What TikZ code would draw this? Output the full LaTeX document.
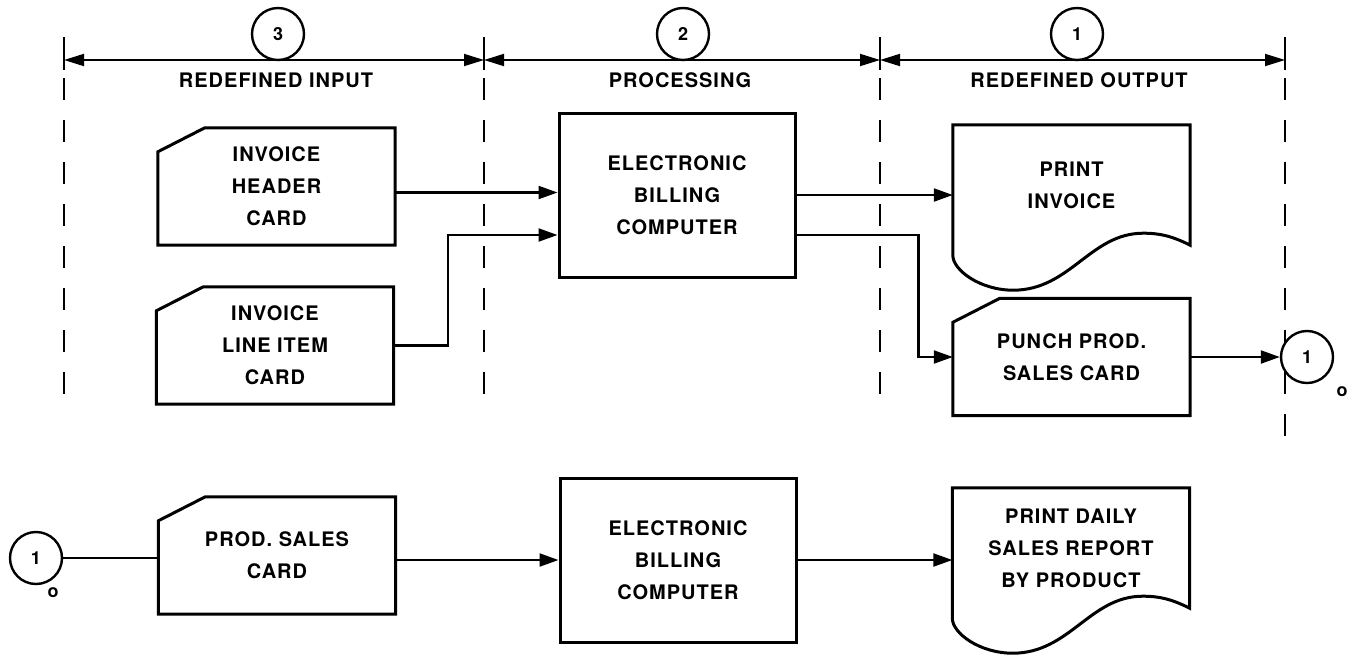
\documentclass[tikz,border=0pt]{standalone}
\usepackage{fontspec}
\setmainfont{TeX Gyre Heros}
\newfontfamily\flowfont[LetterSpace=5]{TeX Gyre Heros}
\usetikzlibrary{arrows.meta}

\tikzset{
  boxtext/.style={font=\flowfont\bfseries\fontsize{20}{32}\selectfont, align=center, inner sep=0pt},
  outline/.style={line width=3pt, line join=miter},
  proc/.style={boxtext, draw, outline, minimum width=236pt, minimum height=164pt},
  card/.style={boxtext, minimum width=237pt, minimum height=117pt,
    append after command={\pgfextra{\draw[outline]
      ([yshift=-24pt]\tikzlastnode.north west) -- ([xshift=47pt]\tikzlastnode.north west)
      -- (\tikzlastnode.north east) -- (\tikzlastnode.south east)
      -- (\tikzlastnode.south west) -- cycle;}}},
  doc/.style={boxtext, minimum width=237pt, minimum height=120pt,
    append after command={\pgfextra{\draw[outline]
      (\tikzlastnode.north west) -- (\tikzlastnode.north east) -- (\tikzlastnode.south east)
      .. controls ([xshift=-18pt,yshift=9pt]\tikzlastnode.south east)
         and ([xshift=-30pt,yshift=12pt]\tikzlastnode.south east)
      .. ([xshift=-47pt,yshift=12pt]\tikzlastnode.south east)
      .. controls ([xshift=-100pt,yshift=12pt]\tikzlastnode.south east)
         and ([xshift=-120pt,yshift=-45pt]\tikzlastnode.south east)
      .. ([xshift=-177pt,yshift=-45pt]\tikzlastnode.south east)
      .. controls ([xshift=-210pt,yshift=-45pt]\tikzlastnode.south east)
         and ([yshift=-25pt]\tikzlastnode.south west)
      .. ([yshift=-10pt]\tikzlastnode.south west) -- cycle;}}},
  conn/.style={circle, draw, line width=2.4pt, fill=white, minimum size=52pt, inner sep=0pt,
    font=\flowfont\bfseries\fontsize{18}{18}\selectfont},
  smallo/.style={inner sep=0pt, font=\bfseries\fontsize{18}{18}\selectfont},
  head/.style={inner sep=0pt, font=\flowfont\bfseries\fontsize{20}{24}\selectfont},
  flow/.style={line width=2.2pt, -{Triangle[length=19pt,width=13pt]}},
  line/.style={line width=2.2pt},
  dim/.style={line width=1.8pt, {Triangle[length=20pt,width=12pt]}-{Triangle[length=20pt,width=12pt]}},
  tickline/.style={line width=2.4pt},
  divider/.style={line width=2.6pt, dash pattern=on 22pt off 20pt},
}

\begin{document}
\begin{tikzpicture}[x=1pt,y=-1pt]
\useasboundingbox (0,0) rectangle (1354,654);
% column dividers
\foreach \x/\e in {64/412,484/412,880/412,1285/442}{
  \draw[tickline] (\x,37) -- (\x,70);
  \draw[divider] (\x,78) -- (\x,\e);
}
\coordinate (d1) at (64,60);
\coordinate (d2) at (484,60);
\coordinate (d3) at (880,60);
\coordinate (d4) at (1285,60);
\draw[dim] (d1) -- (d2);
\draw[dim] (d2) -- (d3);
\draw[dim] (d3) -- (d4);
\node[conn] (col3) at (278,34) {3};
\node[conn] (col2) at (683,34) {2};
\node[conn] (col1) at (1077,34) {1};
\node[head] (hin) at (276,80) {REDEFINED INPUT};
\node[head] (hproc) at (680,80) {PROCESSING};
\node[head] (hout) at (1079,80) {REDEFINED OUTPUT};

% first run
\node[card] (hdr) at (276.5,186.5) {INVOICE\\HEADER\\CARD};
\node[card] (item) at (275,345.5) {INVOICE\\LINE ITEM\\CARD};
\node[proc] (bill) at (677,195) {ELECTRONIC\\BILLING\\COMPUTER};
\node[doc] (inv) at (1071.5,185) {PRINT\\INVOICE};
\node[card] (punch) at (1071.5,357) {PUNCH PROD.\\SALES CARD};
\node[conn] (outc) at (1307,357) {1};
\node[smallo] (outo) at (1342,392) {o};
\draw[flow] ([yshift=-6pt]hdr.east) -- ([yshift=-6pt]hdr.east -| bill.west);
\draw[flow] (item.east) -- ++(54,0) |- ([yshift=-40pt]bill.west);
\draw[flow] (bill.east) -- (bill.east -| inv.west);
\draw[flow] ([yshift=-40pt]bill.east) -- ++(122,0) |- (punch.west);
\draw[flow] (punch.east) -- (outc.west);

% second run
\node[conn] (inc) at (36,558) {1};
\node[smallo] (ino) at (53,593) {o};
\node[card] (sales) at (277,555.5) {PROD. SALES\\CARD};
\node[proc] (bill2) at (678,560) {ELECTRONIC\\BILLING\\COMPUTER};
\node[doc] (rep) at (1071,548) {PRINT DAILY\\SALES REPORT\\BY PRODUCT};
\draw[line] (inc.east) -- (inc.east -| sales.west);
\draw[flow] (sales.east |- bill2.west) -- (bill2.west);
\draw[flow] (bill2.east) -- (bill2.east -| rep.west);
\end{tikzpicture}
\end{document}
